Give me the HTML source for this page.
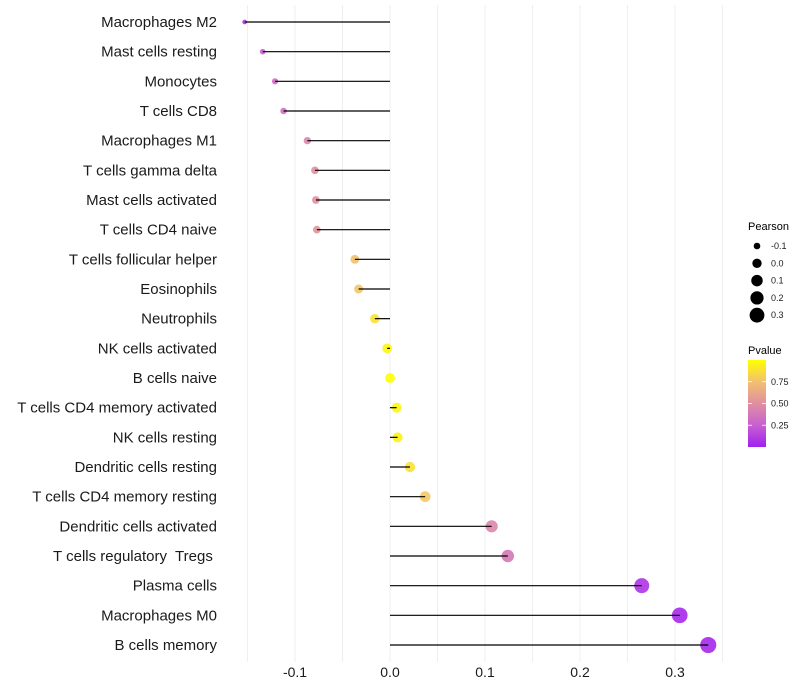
<!DOCTYPE html>
<html><head><meta charset="utf-8"><style>
body{margin:0;background:#fff;}
svg{font-family:"Liberation Sans",sans-serif;display:block}
</style></head><body>
<svg id="chart" width="800" height="700">
<defs><linearGradient id="pg" x1="0" y1="1" x2="0" y2="0">
<stop offset="0" stop-color="#A020F0"/><stop offset="0.25" stop-color="#C860D0"/><stop offset="0.5" stop-color="#E08FA0"/><stop offset="0.75" stop-color="#F2C070"/><stop offset="1" stop-color="#FFFF00"/></linearGradient></defs>
<g id="grid"></g>
<g id="points"></g>
<g id="marks"></g>
<g id="labels"></g>
<g id="xticks"></g>
<g>
<text x="748" y="230" font-size="11">Pearson</text>
<g id="sizeLegend"></g>
</g>
<g>
<text x="748" y="354" font-size="11">Pvalue</text>
<rect x="748" y="360" width="18" height="87" fill="url(#pg)"/>
<g id="cbTicks"></g>
</g>
</svg>
<script>
const categories=["Macrophages M2","Mast cells resting","Monocytes","T cells CD8","Macrophages M1","T cells gamma delta","Mast cells activated","T cells CD4 naive","T cells follicular helper","Eosinophils","Neutrophils","NK cells activated","B cells naive","T cells CD4 memory activated","NK cells resting","Dendritic cells resting","T cells CD4 memory resting","Dendritic cells activated","T cells regulatory  Tregs ","Plasma cells","Macrophages M0","B cells memory"];
const pearson=[-0.153,-0.134,-0.121,-0.112,-0.087,-0.079,-0.078,-0.077,-0.037,-0.033,-0.016,-0.003,0.000,0.007,0.008,0.021,0.037,0.107,0.124,0.265,0.305,0.335];
const pvalues=[0.10,0.25,0.30,0.33,0.45,0.50,0.50,0.52,0.75,0.77,0.88,0.97,1.0,0.96,0.95,0.88,0.78,0.45,0.38,0.08,0.04,0.03];
const xTicks=[-0.1,0.0,0.1,0.2,0.3];
const xTickLabels=["-0.1","0.0","0.1","0.2","0.3"];
const sizeLegendVals=[-0.1,0.0,0.1,0.2,0.3];
const sizeLegendLabels=["-0.1","0.0","0.1","0.2","0.3"];
const cbVals=[0.75,0.50,0.25];
const cbLabels=["0.75","0.50","0.25"];

const NS="http://www.w3.org/2000/svg";
const x=v=>390+v*950;
const y=i=>22+i*(623/21);
const r=v=>11*Math.sqrt(Math.max(v+0.2,0.001));
const pY=p=>447-p*87;
const stops=[[0,[160,32,240]],[0.25,[200,96,208]],[0.5,[224,143,160]],[0.75,[242,192,112]],[1,[255,255,0]]];
function col(p){for(let i=1;i<stops.length;i++){if(p<=stops[i][0]){const a=stops[i-1],b=stops[i],t=(p-a[0])/(b[0]-a[0]);return "rgb("+a[1].map((c,k)=>Math.round(c+(b[1][k]-c)*t)).join(",")+")";}}return "rgb(255,255,0)";}
function mk(tag,attrs,parent){const e=document.createElementNS(NS,tag);for(const k in attrs)e.setAttribute(k,attrs[k]);parent.appendChild(e);return e;}
const grid=document.getElementById('grid');
for(let v=-0.15;v<=0.351;v+=0.05){
 const g=mk('line',{x1:x(v),x2:x(v),y1:5,y2:662,stroke:'#efefef','stroke-width':1},grid);
 
 
}
const marks=document.getElementById('marks'),labels=document.getElementById('labels'),pts=document.getElementById('points');
categories.forEach((c,i)=>{
 const p=mk('circle',{cx:x(pearson[i]),cy:y(i),r:r(pearson[i]),fill:col(pvalues[i]),'fill-opacity':0.9},pts);
 
 
 const s=mk('line',{x1:x(0),x2:x(pearson[i]),y1:y(i),y2:y(i),stroke:'#000','stroke-width':1.2},marks);
 
 
 const t=mk('text',{x:217,y:y(i)+5,'text-anchor':'end','font-size':15,fill:'#1a1a1a','xml:space':'preserve'},labels);
 t.style.whiteSpace='pre';
 t.textContent=c;
 
 
});
const xt=document.getElementById('xticks');
xTicks.forEach((v,i)=>{
 const t=mk('text',{x:x(v),y:677,'text-anchor':'middle','font-size':14,fill:'#1a1a1a'},xt);
 t.textContent=xTickLabels[i];
 
 
});
const sl=document.getElementById('sizeLegend');
sizeLegendVals.forEach((v,i)=>{
 const cy=246+i*17.3;
 const c=mk('circle',{cx:757,cy:cy,r:r(v)*0.95,fill:'#000'},sl);
 
 
 const t=mk('text',{x:771,y:cy+3,'font-size':9,fill:'#1a1a1a'},sl);
 t.textContent=sizeLegendLabels[i];
 
 
});
const cb=document.getElementById('cbTicks');
cbVals.forEach((v,i)=>{
 const l=mk('line',{x1:748,x2:752,y1:pY(v),y2:pY(v),stroke:'#fff','stroke-width':0.8},cb);
 
 
 const l2=mk('line',{x1:762,x2:766,y1:pY(v),y2:pY(v),stroke:'#fff','stroke-width':0.8},cb);
 
 
 const t=mk('text',{x:771,y:pY(v)+3,'font-size':9,fill:'#1a1a1a'},cb);
 t.textContent=cbLabels[i];
 
 
});
</script>
</body></html>
